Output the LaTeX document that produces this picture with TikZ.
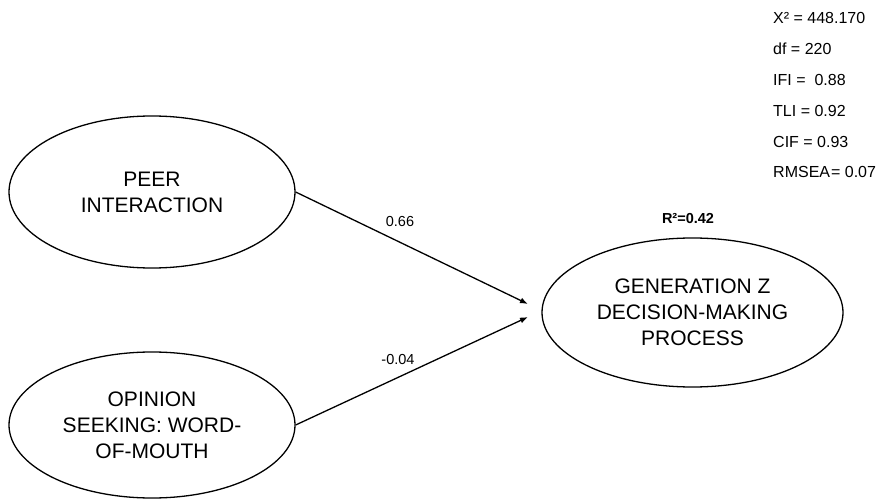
\documentclass[tikz,border=0pt]{standalone}
\usepackage{fontspec}
\setmainfont{Liberation Sans}
\usetikzlibrary{shapes.geometric,arrows.meta}
\begin{document}
\begin{tikzpicture}[x=1pt,y=-1pt,
  latent/.style={draw,ellipse,line width=1.3pt,inner sep=0pt,align=center,
     font=\fontsize{21}{26}\selectfont},
  path/.style={line width=1.3pt,-{Latex[length=8pt,width=6pt]}},
  coef/.style={font=\fontsize{14.5}{17}\selectfont},
  fit/.style={anchor=west,inner sep=0pt,font=\fontsize{16}{19}\selectfont}]
\useasboundingbox (0,0) rectangle (887,500);
\node[latent,minimum width=286pt,minimum height=152pt] (peer) at (152,192) {PEER\\INTERACTION};
\node[latent,minimum width=286pt,minimum height=146pt] (opin) at (152,425) {OPINION\\SEEKING: WORD-\\OF-MOUTH};
\node[latent,minimum width=301pt,minimum height=149pt] (gen) at (692.5,312.5) {GENERATION Z\\DECISION-MAKING\\PROCESS};
\coordinate (t1) at (528,304);
\coordinate (t2) at (528,317);
\draw[path] (peer.east) -- (t1);
\draw[path] (opin.east) -- (t2);
\node[coef] (c1) at (400,222) {0.66};
\node[coef] (c2) at (398,360) {-0.04};
\node[coef,font=\fontsize{14.5}{17}\selectfont\bfseries] (r2) at (688,219) {R²=0.42};
\node[fit] (f1) at (773,18) {X² = 448.170};
\node[fit] (f2) at (773,49) {df = 220};
\node[fit] (f3) at (773,80) {IFI = \ 0.88};
\node[fit] (f4) at (773,111) {TLI = 0.92};
\node[fit] (f5) at (773,142) {CIF = 0.93};
\node[fit] (f6) at (773,172) {RMSEA\kern1pt= 0.07};
\end{tikzpicture}
\end{document}
